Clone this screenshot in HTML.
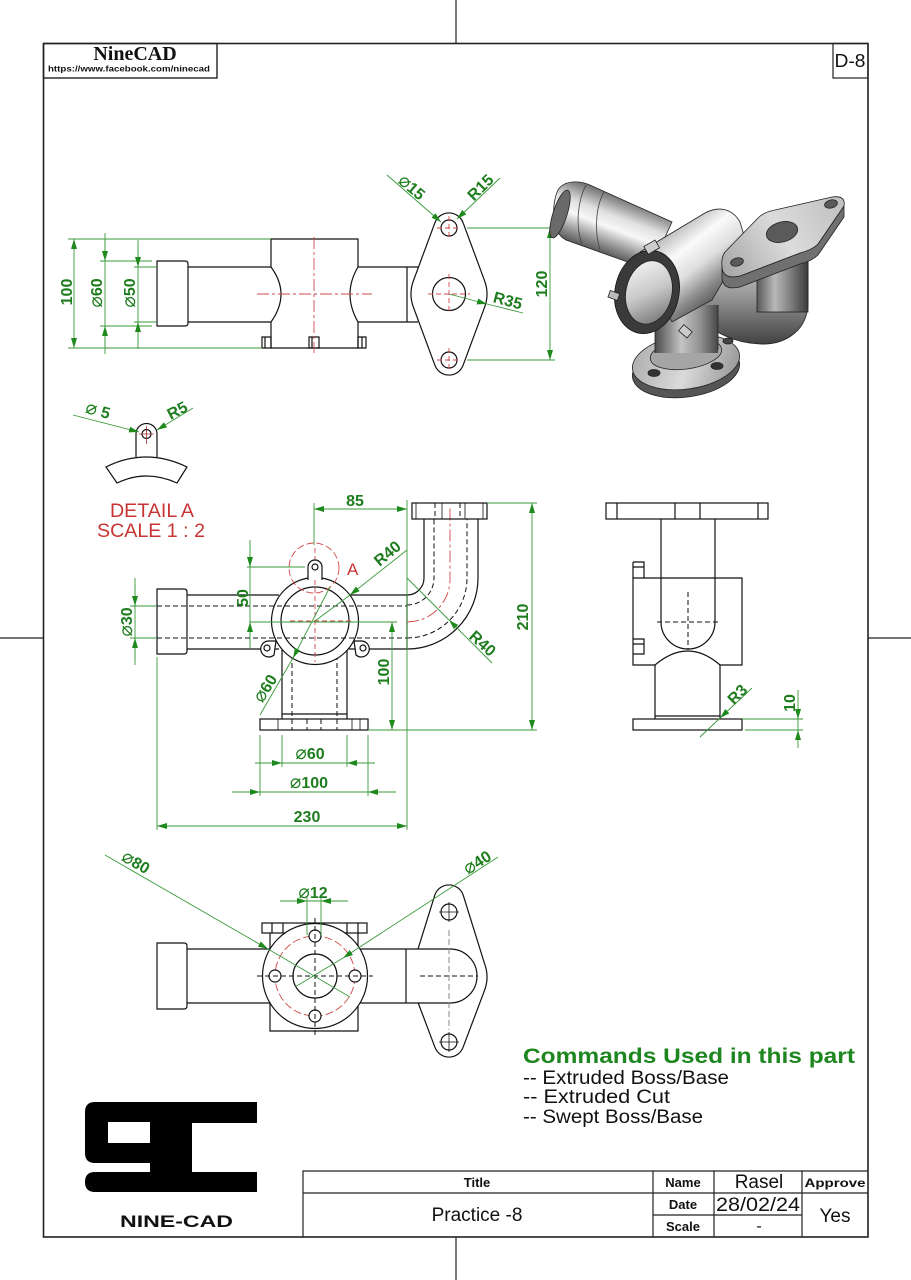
<!DOCTYPE html>
<html><head><meta charset="utf-8"><style>
html,body{margin:0;padding:0;background:#fff;}
svg{display:block}
.k{stroke:#111;stroke-width:1.2;fill:none}
.kw{stroke:#111;stroke-width:1.2;fill:#fff}
.th{stroke:#111;stroke-width:0.8;fill:none}
.g{stroke:#3a9a3a;stroke-width:0.9;fill:none}
.t{font-family:"Liberation Sans",sans-serif;font-weight:bold;font-size:16px;fill:#1e7d1e}
.d{font-weight:normal;font-size:19px}
.r{stroke:#d04848;stroke-width:0.9;fill:none;stroke-dasharray:12 3 3 3}
.rd{stroke:#d04848;stroke-width:0.9;fill:none;stroke-dasharray:5 3}
.h{stroke:#111;stroke-width:1;fill:none;stroke-dasharray:5 3}
.s{font-family:"Liberation Sans",sans-serif;font-weight:normal;fill:#111}
.b{font-family:"Liberation Sans",sans-serif;font-weight:bold;fill:#111}
</style></head><body>
<svg width="911" height="1280" viewBox="0 0 911 1280" xmlns="http://www.w3.org/2000/svg">
<defs>
<marker id="a" viewBox="0 0 10 6" refX="10" refY="3" markerWidth="10" markerHeight="6" markerUnits="userSpaceOnUse" orient="auto-start-reverse"><path d="M0,0 L10,3 L0,6 Z" fill="#1e8a1e"/></marker>
<linearGradient id="gTube" gradientUnits="userSpaceOnUse" x1="578" y1="182" x2="556" y2="240"><stop offset="0" stop-color="#777"/><stop offset=".3" stop-color="#e0e0e0"/><stop offset=".5" stop-color="#f8f8f8"/><stop offset=".75" stop-color="#999"/><stop offset="1" stop-color="#444"/></linearGradient>
<linearGradient id="gBody" gradientUnits="userSpaceOnUse" x1="668" y1="228" x2="722" y2="298"><stop offset="0" stop-color="#b0b0b0"/><stop offset=".3" stop-color="#fafafa"/><stop offset=".55" stop-color="#dedede"/><stop offset=".8" stop-color="#8a8a8a"/><stop offset="1" stop-color="#555"/></linearGradient>
<linearGradient id="gVert" gradientUnits="userSpaceOnUse" x1="757" y1="0" x2="808" y2="0"><stop offset="0" stop-color="#5a5a5a"/><stop offset=".35" stop-color="#b8b8b8"/><stop offset=".65" stop-color="#808080"/><stop offset="1" stop-color="#3a3a3a"/></linearGradient>
<linearGradient id="gStub" gradientUnits="userSpaceOnUse" x1="655" y1="0" x2="720" y2="0"><stop offset="0" stop-color="#4a4a4a"/><stop offset=".4" stop-color="#c4c4c4"/><stop offset=".7" stop-color="#909090"/><stop offset="1" stop-color="#404040"/></linearGradient>
<linearGradient id="gElb" gradientUnits="userSpaceOnUse" x1="0" y1="265" x2="0" y2="345"><stop offset="0" stop-color="#c8c8c8"/><stop offset=".4" stop-color="#959595"/><stop offset="1" stop-color="#404040"/></linearGradient>
<linearGradient id="gFl" gradientUnits="userSpaceOnUse" x1="640" y1="340" x2="735" y2="385"><stop offset="0" stop-color="#b0b0b0"/><stop offset=".5" stop-color="#dadada"/><stop offset="1" stop-color="#959595"/></linearGradient>
<linearGradient id="gIn" gradientUnits="userSpaceOnUse" x1="628" y1="265" x2="670" y2="320"><stop offset="0" stop-color="#f4f4f4"/><stop offset=".5" stop-color="#c8c8c8"/><stop offset="1" stop-color="#707070"/></linearGradient>
<linearGradient id="gPl" gradientUnits="userSpaceOnUse" x1="725" y1="270" x2="840" y2="200"><stop offset="0" stop-color="#a8a8a8"/><stop offset=".5" stop-color="#dcdcdc"/><stop offset="1" stop-color="#c0c0c0"/></linearGradient>
</defs>

<!-- frame -->
<rect x="43.5" y="43.5" width="824.5" height="1193.5" fill="none" stroke="#222" stroke-width="1.6"/>
<g stroke="#222" stroke-width="1.2">
<line x1="456" y1="0" x2="456" y2="43"/><line x1="456" y1="1237" x2="456" y2="1280"/>
<line x1="0" y1="638" x2="43" y2="638"/><line x1="868" y1="638" x2="911" y2="638"/>
</g>
<rect x="43.5" y="43.5" width="173.5" height="34.5" fill="none" stroke="#222" stroke-width="1.4"/>
<text x="135" y="60" text-anchor="middle" font-family="Liberation Serif" font-weight="bold" font-size="20" fill="#111">NineCAD</text>
<text x="129" y="71.5" text-anchor="middle" class="b" font-size="8.6" textLength="162" lengthAdjust="spacingAndGlyphs">https://www.facebook.com/ninecad</text>
<rect x="833" y="43.5" width="35" height="34.5" fill="none" stroke="#222" stroke-width="1.2"/>
<text x="850" y="67" text-anchor="middle" class="s" font-size="18" textLength="31" lengthAdjust="spacingAndGlyphs">D-8</text>

<!-- ============ TOP VIEW ============ -->
<g>
<path class="k" d="M157,261 H185 Q188,261 188,264 V323 Q188,326 185,326 H157 Z"/>
<path class="k" d="M188,267 H271 M188,322 H271 M358,267 H418 M358,322 H418 M407,267 V322"/>
<path class="k" d="M271,239 H358 V267 Q342,294 358,322 V348 H271 V322 Q291,294 271,267 Z"/>
<path class="k" d="M262,337 H271 V348 H262 Z M309,337 H319 V348 H309 Z M358,337 H366 V348 H358 Z M265,337 V348 M312,337 V348 M362,337 V348"/>
<path class="k" d="M434.9,222.8 A15,15 0 0 1 463.1,222.8 L484.6,280.8 A38,38 0 0 1 484.6,307.2 L463.1,365.2 A15,15 0 0 1 434.9,365.2 L413.4,307.2 A38,38 0 0 1 413.4,280.8 Z"/>
<circle class="k" cx="449" cy="228" r="8"/><circle class="k" cx="449" cy="360" r="8"/><circle class="k" cx="449" cy="294" r="16.5"/>
<path class="r" d="M257,294 H372"/>
<path class="r" d="M314,237 V353"/>
<path class="rd" d="M437,228 H461 M449,216 V240 M437,360 H461 M449,348 V372 M428,294 H470 M449,274 V314"/>
</g>
<g class="g">
<path d="M68,239 H271 M68,348 H262 M100,261 H152 M100,326 H152 M134,267 H157 M134,322 H157 M467,228 H555 M467,360 H555"/>
<line x1="74" y1="239" x2="74" y2="348" marker-start="url(#a)" marker-end="url(#a)"/>
<path d="M105,233 V354"/>
<line x1="105" y1="240" x2="105" y2="261" marker-end="url(#a)"/>
<line x1="105" y1="347" x2="105" y2="326" marker-end="url(#a)"/>
<path d="M138,240 V349"/>
<line x1="138" y1="245" x2="138" y2="267" marker-end="url(#a)"/>
<line x1="138" y1="344" x2="138" y2="322" marker-end="url(#a)"/>
<line x1="550" y1="228" x2="550" y2="360" marker-start="url(#a)" marker-end="url(#a)"/>
<line x1="387" y1="175" x2="441" y2="222" marker-end="url(#a)"/>
<line x1="500" y1="178" x2="457" y2="219" marker-end="url(#a)"/>
<line x1="449" y1="294" x2="487" y2="304" marker-end="url(#a)"/>
<line x1="487" y1="304" x2="523" y2="313"/>
</g>
<text class="t" transform="translate(66,292) rotate(-90)" y="6" text-anchor="middle">100</text>
<text class="t" transform="translate(96,293) rotate(-90)" y="6" text-anchor="middle"><tspan class="d">⌀</tspan>60</text>
<text class="t" transform="translate(129,293) rotate(-90)" y="6" text-anchor="middle"><tspan class="d">⌀</tspan>50</text>
<text class="t" transform="translate(541,284) rotate(-90)" y="6" text-anchor="middle">120</text>
<text class="t" transform="translate(412,187) rotate(40)" y="6" text-anchor="middle"><tspan class="d">⌀</tspan>15</text>
<text class="t" transform="translate(480,187) rotate(-45)" y="6" text-anchor="middle">R15</text>
<text class="t" transform="translate(508,300) rotate(15)" y="6" text-anchor="middle">R35</text>

<!-- ============ 3D VIEW ============ -->
<g stroke="#222" stroke-width="0.8">
<path d="M558,190 C564,180 580,180 592,186 L672,222 L650,270 L566,240 C550,232 552,202 558,190 Z" fill="url(#gTube)"/>
<ellipse cx="560" cy="214" rx="7" ry="25" transform="rotate(18 560 214)" fill="#6a6a6a"/>
<path d="M586,185 C578,200 575,225 582,244 M604,192 C596,206 594,230 600,250" fill="none" stroke="#444"/>
<path d="M700,275 L770,262 L808,262 L808,305 C806,335 780,345 760,344 C735,343 712,332 700,318 Z" fill="url(#gElb)"/>
<rect x="757" y="250" width="51" height="62" fill="url(#gVert)"/>
<ellipse cx="686" cy="370" rx="54" ry="27" transform="rotate(-8 686 370)" fill="#555"/>
<ellipse cx="686" cy="362" rx="54" ry="27" transform="rotate(-8 686 362)" fill="url(#gFl)"/>
<ellipse cx="654" cy="373" rx="6" ry="3.5" fill="#333"/><ellipse cx="717" cy="366" rx="6" ry="3.5" fill="#333"/><ellipse cx="728" cy="341" rx="5" ry="3" fill="#444"/>
<ellipse cx="686" cy="354" rx="36" ry="15" transform="rotate(-8 686 354)" fill="#a5a5a5"/>
<rect x="655" y="305" width="63" height="48" fill="url(#gStub)" stroke="none"/>
<path d="M655,305 V353 M718,305 V350" fill="none"/>
<path d="M640,252 L705,213 C718,206 732,208 740,222 L746,242 L712,300 L672,322 Z" fill="url(#gBody)"/>
<g transform="rotate(12 647 292)">
<ellipse cx="647" cy="292" rx="32" ry="42" fill="#3a3a3a" stroke="#111"/>
<ellipse cx="649" cy="292" rx="23" ry="32" fill="url(#gIn)"/>
</g>
<rect x="645" y="243" width="13" height="9" transform="rotate(-30 651 247)" fill="#ccc"/>
<rect x="609" y="292" width="10" height="7" transform="rotate(20 614 295)" fill="#bbb"/>
<rect x="680" y="327" width="11" height="8" transform="rotate(40 685 331)" fill="#ccc"/>
<path d="M722,266 Q722,280 740,276 L800,253 Q812,250 818,244 L844,206 L844,217 L818,255 Q812,261 800,264 L740,287 Q722,291 722,277 Z" fill="#707070"/>
<path d="M725,252 L758,218 Q764,212 775,210 L832,197 Q846,195 844,206 L818,244 Q812,250 800,253 L740,276 Q722,280 722,266 Q721,258 725,252 Z" fill="url(#gPl)"/>
<ellipse cx="782" cy="232" rx="16" ry="10" transform="rotate(-15 782 232)" fill="#5a5a5a"/>
<ellipse cx="737" cy="262" rx="6.5" ry="4" transform="rotate(-15 737 262)" fill="#5a5a5a"/>
<ellipse cx="831" cy="204" rx="6.5" ry="4" transform="rotate(-15 831 204)" fill="#5a5a5a"/>
</g>

<!-- ============ DETAIL A ============ -->
<path class="k" d="M136,457 V434 A10.5,10.5 0 0 1 157,434 V457"/>
<circle class="k" cx="146.5" cy="434" r="4.5"/>
<path stroke="#a03030" stroke-width="0.8" d="M139,434 H154 M146.5,426 V444"/>
<path class="k" d="M106,467 Q146,447 187,467 L177,483 Q146,469 117,483 Z"/>
<g class="g">
<line x1="73" y1="415" x2="139" y2="432" marker-end="url(#a)"/>
<line x1="193" y1="408" x2="157" y2="430" marker-end="url(#a)"/>
</g>
<text class="t" transform="translate(98,410) rotate(15)" y="6" text-anchor="middle"><tspan class="d">⌀</tspan> 5</text>
<text class="t" transform="translate(177,410) rotate(-28)" y="6" text-anchor="middle">R5</text>
<text x="152" y="517" text-anchor="middle" font-family="Liberation Sans" font-size="19" fill="#c83434" textLength="84" lengthAdjust="spacingAndGlyphs">DETAIL A</text>
<text x="151" y="537" text-anchor="middle" font-family="Liberation Sans" font-size="19" fill="#c83434" textLength="108" lengthAdjust="spacingAndGlyphs">SCALE 1 : 2</text>

<!-- ============ FRONT VIEW ============ -->
<g>
<path class="k" d="M157,589 H184 Q187,589 187,592 V651 Q187,654 184,654 H157 Z"/>
<path class="k" d="M187,595 H279 M187,649 H279 M349,595 H407 M349,649 H407 M407,595 V649"/>
<path class="k" d="M407,595 A17,17 0 0 0 424,578 V519 M407,649 A71,71 0 0 0 478,578 V519"/>
<path class="h" d="M407,605 A27,27 0 0 0 434,578 V519 M407,638 A60,60 0 0 0 467,578 V519"/>
<path class="r" d="M407,622 A43,43 0 0 0 450,578 V508"/>
<rect class="k" x="412" y="503" width="75" height="16"/>
<path class="th" d="M416,503 V519 M442,503 V519 M465,503 V519 M483,503 V519"/>
<path class="h" d="M435,503 V519 M460,503 V519"/>
<path class="k" d="M282,650 V714 M347,650 V714 M282,714 H347 M282,714 V719 M347,714 V719"/>
<rect class="k" x="260" y="719" width="108" height="11"/>
<path class="th" d="M278,719 V730 M352,719 V730 M360,719 V730"/>
<path class="h" d="M292,655 V730 M337,655 V730 M307,719 V730 M321,719 V730"/>
<circle class="kw" cx="315" cy="621" r="43.5"/>
<circle class="k" cx="315" cy="621" r="34"/>
<path class="h" d="M157,606 H407 M157,638 H407"/>
<path class="rd" d="M315,548 V662 M290,621 H352"/>
<path class="kw" d="M308,580 V567 A7,7 0 0 1 322,567 V580"/>
<circle class="k" cx="315" cy="567" r="3"/>
<path class="kw" d="M276,641 L268,641 A8,8 0 1 0 274,655 Z"/>
<circle class="k" cx="267" cy="648" r="3"/>
<path class="kw" d="M354,641 L362,641 A8,8 0 1 1 356,655 Z"/>
<circle class="k" cx="363" cy="648" r="3"/>
<circle cx="314" cy="568" r="25" fill="none" stroke="#d04848" stroke-width="0.9" stroke-dasharray="7 3"/>
</g>
<text x="347" y="575" font-family="Liberation Sans" font-size="17" fill="#c83434">A</text>
<g class="g">
<path d="M314,503 V545 M407,500 V830 M487,503 H537 M368,730 H537 M247,567 H305 M250,622 H397 M130,606 H157 M130,638 H157 M282,735 V767 M347,735 V767 M260,735 V796 M368,735 V796 M157,657 V830"/>
<line x1="314" y1="509" x2="407" y2="509" marker-start="url(#a)" marker-end="url(#a)"/>
<line x1="532" y1="503" x2="532" y2="730" marker-start="url(#a)" marker-end="url(#a)"/>
<path d="M250,540 V648"/>
<line x1="250" y1="545" x2="250" y2="567" marker-end="url(#a)"/>
<line x1="250" y1="645" x2="250" y2="622" marker-end="url(#a)"/>
<line x1="392" y1="622" x2="392" y2="730" marker-start="url(#a)" marker-end="url(#a)"/>
<path d="M135,578 V665"/>
<line x1="135" y1="584" x2="135" y2="606" marker-end="url(#a)"/>
<line x1="135" y1="660" x2="135" y2="638" marker-end="url(#a)"/>
<line x1="407" y1="550" x2="350" y2="595" marker-end="url(#a)"/>
<line x1="350" y1="595" x2="315" y2="621"/>
<line x1="492" y1="663" x2="449" y2="620" marker-end="url(#a)"/>
<line x1="449" y1="620" x2="407" y2="578"/>
<line x1="330" y1="587" x2="293" y2="658" marker-end="url(#a)"/>
<line x1="293" y1="658" x2="260" y2="715"/>
<path d="M282,763 H347 M260,792 H368"/>
<line x1="255" y1="763" x2="282" y2="763" marker-end="url(#a)"/>
<line x1="375" y1="763" x2="347" y2="763" marker-end="url(#a)"/>
<line x1="232" y1="792" x2="260" y2="792" marker-end="url(#a)"/>
<line x1="396" y1="792" x2="368" y2="792" marker-end="url(#a)"/>
<line x1="157" y1="826" x2="407" y2="826" marker-start="url(#a)" marker-end="url(#a)"/>
</g>
<text class="t" x="355" y="506" text-anchor="middle">85</text>
<text class="t" transform="translate(522,617) rotate(-90)" y="6" text-anchor="middle">210</text>
<text class="t" transform="translate(242,598) rotate(-90)" y="6" text-anchor="middle">50</text>
<text class="t" transform="translate(383,672) rotate(-90)" y="6" text-anchor="middle">100</text>
<text class="t" transform="translate(126,622) rotate(-90)" y="6" text-anchor="middle"><tspan class="d">⌀</tspan>30</text>
<text class="t" transform="translate(387,553) rotate(-40)" y="6" text-anchor="middle">R40</text>
<text class="t" transform="translate(483,643) rotate(42)" y="6" text-anchor="middle">R40</text>
<text class="t" transform="translate(265,688) rotate(-58)" y="6" text-anchor="middle"><tspan class="d">⌀</tspan>60</text>
<text class="t" x="310" y="759" text-anchor="middle"><tspan class="d">⌀</tspan>60</text>
<text class="t" x="309" y="788" text-anchor="middle"><tspan class="d">⌀</tspan>100</text>
<text class="t" x="307" y="822" text-anchor="middle">230</text>

<!-- ============ SIDE VIEW ============ -->
<g>
<rect class="k" x="606" y="503" width="162" height="16"/>
<path class="k" d="M617,503 V519 M675,503 V519 M700,503 V519 M758,503 V519"/>
<path class="k" d="M661,519 V622 A27,27 0 0 0 715,622 V519"/>
<path class="k" d="M633,578 H742 V665 H720 Q688,637 655,665 H633 Z"/>
<path class="k" d="M633,562 H644 V578 M633,562 V578 M633,567 H644 M633,639 H644 V654 H633 M633,644 H644"/>
<path class="k" d="M655,665 V716 M720,665 V716 M655,716 H720 M655,716 V719 M720,716 V719"/>
<rect class="k" x="633" y="719" width="109" height="11"/>
<path class="h" d="M688,592 V650 M657,622 H718"/>
</g>
<g class="g">
<line x1="752" y1="688" x2="720" y2="718" marker-end="url(#a)"/>
<line x1="720" y1="718" x2="700" y2="737"/>
<path d="M742,719 H803 M745,730 H803 M798,719 V730"/>
<line x1="798" y1="690" x2="798" y2="719" marker-end="url(#a)"/>
<line x1="798" y1="748" x2="798" y2="730" marker-end="url(#a)"/>
</g>
<text class="t" transform="translate(737,694) rotate(-45)" y="6" text-anchor="middle">R3</text>
<text class="t" transform="translate(789,703) rotate(-90)" y="6" text-anchor="middle">10</text>

<!-- ============ BOTTOM VIEW ============ -->
<g>
<path class="k" d="M157,943 H184 Q187,943 187,946 V1006 Q187,1009 184,1009 H157 Z"/>
<path class="k" d="M187,949 H272 M187,1003 H272"/>
<rect class="k" x="262" y="923" width="105" height="10"/>
<path class="k" d="M272,923 V933 M283,923 V933 M347,923 V933 M358,923 V933"/>
<path class="k" d="M270,933 V1031 H358 V933"/>
<path class="k" d="M434.9,894.8 A15,15 0 0 1 463.1,894.8 L484.6,963.8 A38,38 0 0 1 484.6,990.2 L463.1,1047.2 A15,15 0 0 1 434.9,1047.2 L413.4,990.2 A38,38 0 0 1 413.4,963.8 Z"/>
<path class="kw" d="M358,949 H450 A27,27 0 0 1 450,1003 H358 Z"/>
<path class="k" d="M406,949 V1003"/>
<circle class="k" cx="449" cy="912" r="8"/><circle class="k" cx="449" cy="1042" r="8"/>
<path class="th" d="M439,912 H459 M449,902 V922 M439,1042 H459 M449,1032 V1052"/>
<path class="h" d="M420,976 H478"/>
<path d="M449,930 V1030" stroke="#888" stroke-width="1" stroke-dasharray="6 3"/>
<circle class="kw" cx="315" cy="976" r="52.5"/>
<circle cx="315" cy="976" r="40" fill="none" stroke="#d04848" stroke-width="0.9" stroke-dasharray="8 3"/>
<circle class="k" cx="315" cy="976" r="22"/>
<circle class="kw" cx="315" cy="936" r="6"/><circle class="kw" cx="315" cy="1016" r="6"/>
<circle class="kw" cx="275" cy="976" r="6"/><circle class="kw" cx="355" cy="976" r="6"/>
<path class="h" d="M257,976 H373 M315,918 V1036"/>
</g>
<g class="g">
<line x1="105" y1="855" x2="268" y2="949" marker-end="url(#a)"/>
<line x1="268" y1="949" x2="350" y2="997"/>
<line x1="498" y1="857" x2="343" y2="958" marker-end="url(#a)"/>
<line x1="343" y1="958" x2="295" y2="987"/>
<path d="M307,897 V935 M321,897 V935 M307,901 H321"/>
<line x1="280" y1="901" x2="307" y2="901" marker-end="url(#a)"/>
<line x1="348" y1="901" x2="321" y2="901" marker-end="url(#a)"/>
</g>
<text class="t" transform="translate(136,862) rotate(30)" y="6" text-anchor="middle"><tspan class="d">⌀</tspan>80</text>
<text class="t" transform="translate(477,862) rotate(-33)" y="6" text-anchor="middle"><tspan class="d">⌀</tspan>40</text>
<text class="t" x="313" y="898" text-anchor="middle"><tspan class="d">⌀</tspan>12</text>

<!-- ============ COMMANDS ============ -->
<text x="523" y="1063" font-family="Liberation Sans" font-weight="bold" font-size="21" fill="#1e861e" textLength="332" lengthAdjust="spacingAndGlyphs">Commands Used in this part</text>
<text x="523" y="1084" class="s" font-size="19" textLength="206" lengthAdjust="spacingAndGlyphs">-- Extruded Boss/Base</text>
<text x="523" y="1103" class="s" font-size="19" textLength="147" lengthAdjust="spacingAndGlyphs">-- Extruded Cut</text>
<text x="523" y="1123" class="s" font-size="19" textLength="180" lengthAdjust="spacingAndGlyphs">-- Swept Boss/Base</text>

<!-- ============ LOGO ============ -->
<path fill="#000" fill-rule="evenodd" d="M95,1102 H257 V1123 H192 V1172 H257 V1192 H95 Q85,1192 85,1182 Q85,1172 95,1172 H150 V1163 H95 Q85,1163 85,1153 V1112 Q85,1102 95,1102 Z M108,1122 H150 V1143 H108 Z"/>
<text x="120" y="1227" class="b" font-size="17" textLength="113" lengthAdjust="spacingAndGlyphs">NINE-CAD</text>

<!-- ============ TITLE BLOCK ============ -->
<g stroke="#222" stroke-width="1.2" fill="none">
<path d="M303,1237 V1171 H868"/>
<path d="M303,1193 H868 M653,1215 H802 M653,1171 V1237 M714,1171 V1237 M802,1171 V1237"/>
</g>
<text x="477" y="1187" text-anchor="middle" class="b" font-size="13">Title</text>
<text x="477" y="1221" text-anchor="middle" class="s" font-size="19">Practice -8</text>
<text x="683" y="1187" text-anchor="middle" class="b" font-size="13">Name</text>
<text x="759" y="1188" text-anchor="middle" class="s" font-size="19">Rasel</text>
<text x="835" y="1187" text-anchor="middle" class="b" font-size="12" textLength="61" lengthAdjust="spacingAndGlyphs">Approve</text>
<text x="683" y="1209" text-anchor="middle" class="b" font-size="13">Date</text>
<text x="758" y="1211" text-anchor="middle" class="s" font-size="19" textLength="84" lengthAdjust="spacingAndGlyphs">28/02/24</text>
<text x="683" y="1231" text-anchor="middle" class="b" font-size="13">Scale</text>
<text x="759" y="1231" text-anchor="middle" class="s" font-size="16">-</text>
<text x="835" y="1222" text-anchor="middle" class="s" font-size="19">Yes</text>
</svg>
</body></html>
